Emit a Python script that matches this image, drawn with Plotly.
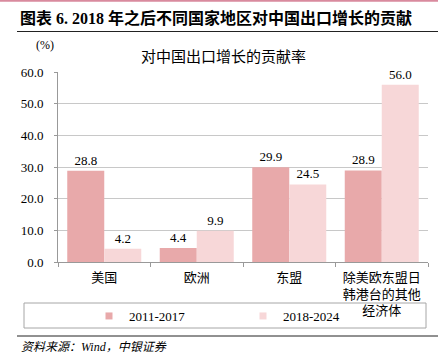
import plotly.graph_objects as go

categories = ["美国", "欧洲", "东盟", "除美欧东盟日<br>韩港台的其他<br>经济体"]
series_names = ["2011-2017", "2018-2024"]
values_2011_2017 = [28.8, 4.4, 29.9, 28.9]
values_2018_2024 = [4.2, 9.9, 24.5, 56.0]
y_ticks = [0, 10, 20, 30, 40, 50, 60]

colors = ["#E8A9AA", "#F7D7D8"]
SERIF = "Liberation Serif, Noto Sans CJK SC, serif"

W, H = 438, 360
L, R, T, B = 58, 10, 72, 98
PW, PH = W - L - R, H - T - B


def px(x):
    return (x - L) / PW


def py(y):
    return (H - B - y) / PH


fig = go.Figure()
for name, vals, col in zip(series_names, [values_2011_2017, values_2018_2024], colors):
    fig.add_trace(go.Bar(
        x=categories, y=vals, name=name, marker=dict(color=col, line=dict(width=0)),
        texttemplate="%{y:.1f}", textposition="outside",
        textfont=dict(family=SERIF, size=13, color="#000000"),
        cliponaxis=False, showlegend=False,
    ))
    fig.add_trace(go.Scatter(
        x=[None], y=[None], mode="markers", name=name,
        marker=dict(symbol="square", size=7, color=col),
    ))

fig.update_layout(
    width=W, height=H,
    margin=dict(l=L, r=R, t=T, b=B, autoexpand=False),
    paper_bgcolor="white", plot_bgcolor="white",
    barmode="group", bargap=0.2, bargroupgap=0,
    font=dict(family=SERIF, size=13, color="#000000"),
    legend=dict(orientation="h", x=px(243), xanchor="center", y=py(316), yanchor="middle",
                entrywidth=109, entrywidthmode="pixels", itemwidth=30,
                font=dict(family=SERIF, size=13, color="#000000"),
                bgcolor="rgba(0,0,0,0)", borderwidth=0),
    xaxis=dict(type="category", showline=True, linecolor="#999999", linewidth=1,
               ticks="outside", tickson="boundaries", ticklen=4, tickcolor="#999999",
               automargin=False, ticklabelstandoff=3,
               tickfont=dict(family=SERIF, size=13, color="#000000"), showgrid=False),
    yaxis=dict(range=[0, 60], tickvals=y_ticks, tickformat=".1f",
               showline=True, linecolor="#999999", linewidth=1,
               ticks="outside", ticklen=3, tickcolor="#999999",
               ticklabelstandoff=8, automargin=False,
               showgrid=True, gridcolor="#C8C8C8", gridwidth=1, zeroline=False,
               tickfont=dict(family=SERIF, size=13, color="#000000")),
)

shapes = [
    dict(type="line", xref="paper", yref="paper", x0=px(0), x1=px(W), y0=py(0.8), y1=py(0.8),
         line=dict(color="#D98A9E", width=2)),
    dict(type="line", xref="paper", yref="paper", x0=px(17), x1=px(W), y0=py(31.5), y1=py(31.5),
         line=dict(color="#222222", width=1)),
    dict(type="line", xref="paper", yref="paper", x0=px(17), x1=px(W), y0=py(336), y1=py(336),
         line=dict(color="#222222", width=1)),
    dict(type="rect", xref="paper", yref="paper", x0=px(24), x1=px(426), y0=py(303), y1=py(328),
         line=dict(color="#A6A6A6", width=1), fillcolor="rgba(0,0,0,0)", layer="below"),
]
fig.update_layout(shapes=shapes)

annotations = [
    dict(text="<b>图表 6. 2018 年之后不同国家地区对中国出口增长的贡献</b>", x=px(18), y=py(18),
         xanchor="left", yanchor="middle", font=dict(family=SERIF, size=16, color="#000000")),
    dict(text="(%)", x=px(45), y=py(45), xanchor="center", yanchor="middle",
         font=dict(family=SERIF, size=12, color="#000000")),
    dict(text="对中国出口增长的贡献率", x=px(223), y=py(57), xanchor="center", yanchor="middle",
         font=dict(family=SERIF, size=15, color="#000000")),
    dict(text="<i>资料来源：Wind，中银证券</i>", x=px(19), y=py(347), xanchor="left", yanchor="middle",
         font=dict(family=SERIF, size=12, color="#000000")),
]
for a in annotations:
    a.update(xref="paper", yref="paper", showarrow=False)
fig.update_layout(annotations=annotations)

fig.write_html("out.html", config={"displayModeBar": False},
               post_script="document.body.style.margin='0';")
